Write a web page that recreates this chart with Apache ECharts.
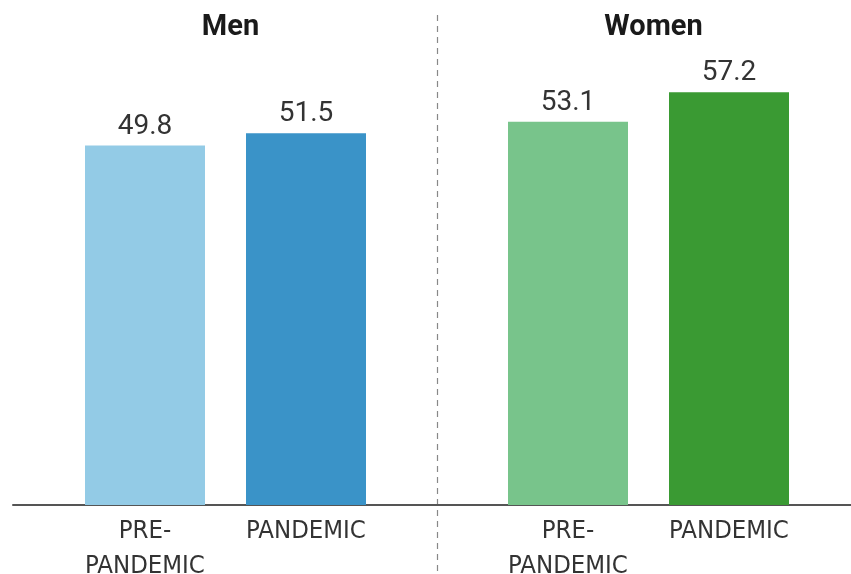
<!DOCTYPE html>
<html>
<head>
<meta charset="utf-8">
<script src="https://cdn.jsdelivr.net/npm/echarts@6/dist/echarts.min.js"></script>
<style>
  html, body { margin: 0; padding: 0; background: #ffffff; }
  #chart { width: 851px; height: 574px; }
</style>
</head>
<body>
<div id="chart"></div>
<script>
// Panel titles
const panels = ['Men', 'Women'];
// Period categories shared by both panels
const periods = ['PRE-\nPANDEMIC', 'PANDEMIC'];
// Values per panel, in period order
const menValues = [49.8, 51.5];
const womenValues = [53.1, 57.2];

const menColors = ['#93cbe6', '#3a93c8'];
const womenColors = ['#78c48b', '#3a9a33'];

// Pick the narrowest installed sans face for the category labels
function pickFont(candidates) {
  const ctx = document.createElement('canvas').getContext('2d');
  const probe = 'PANDEMIC 0123456789';
  ctx.font = '40px monospace';
  const base = ctx.measureText(probe).width;
  for (const f of candidates) {
    ctx.font = '40px "' + f + '", monospace';
    if (Math.abs(ctx.measureText(probe).width - base) > 0.5) return f;
  }
  return 'Roboto';
}
const narrowFont = pickFont(['Liberation Sans Narrow', 'DejaVu Sans Condensed', 'Roboto Condensed', 'Roboto']);

// size so that "PANDEMIC" spans about one bar width
function fitSize(font, text, target) {
  const ctx = document.createElement('canvas').getContext('2d');
  ctx.font = '100px "' + font + '"';
  return Math.round(100 * target / ctx.measureText(text).width * 2) / 2;
}
const catSize = Math.min(28, fitSize(narrowFont, 'PANDEMIC', 120));

const chart = echarts.init(document.getElementById('chart'), null, { renderer: 'canvas' });

const valueLabel = {
  show: true,
  position: 'top',
  distance: 5,
  color: '#333333',
  fontFamily: 'Roboto',
  fontSize: 28,
  formatter: p => p.value.toFixed(1)
};

const catAxis = idx => ({
  type: 'category',
  gridIndex: idx,
  data: periods,
  axisLine: { show: false },
  axisTick: { show: false },
  axisLabel: {
    color: '#333333',
    fontFamily: '"' + narrowFont + '"',
    fontSize: catSize,
    lineHeight: 35,
    margin: 9,
    interval: 0
  }
});

const valAxis = idx => ({
  type: 'value',
  gridIndex: idx,
  min: 0,
  max: 60,
  show: false,
  splitLine: { show: false }
});

const barSeries = (idx, values, colors) => ({
  type: 'bar',
  xAxisIndex: idx,
  yAxisIndex: idx,
  barWidth: 120,
  data: values.map((v, i) => ({ value: v, itemStyle: { color: colors[i] } })),
  label: valueLabel,
  silent: true
});

const titleStyle = { fontFamily: 'Roboto', fontWeight: 'bold', fontSize: 29, color: '#1a1a1a' };

chart.setOption({
  animation: false,
  backgroundColor: '#ffffff',
  title: [
    { text: panels[0], left: 225.5, top: 8, textAlign: 'center', textStyle: titleStyle },
    { text: panels[1], left: 648.5, top: 8, textAlign: 'center', textStyle: titleStyle }
  ],
  grid: [
    { left: 64.5, width: 322, top: 72, bottom: 69, outerBoundsMode: 'none' },
    { left: 487.5, width: 322, top: 72, bottom: 69, outerBoundsMode: 'none' },
    // full-width baseline
    { left: 13, right: 0, top: 72, bottom: 69, outerBoundsMode: 'none' }
  ],
  xAxis: [
    catAxis(0),
    catAxis(1),
    {
      type: 'value', gridIndex: 2, min: 0, max: 1,
      axisLine: { show: true, lineStyle: { color: '#555555', width: 2 } },
      axisTick: { show: false }, axisLabel: { show: false }, splitLine: { show: false }
    }
  ],
  yAxis: [valAxis(0), valAxis(1), valAxis(2)],
  series: [
    barSeries(0, menValues, menColors),
    barSeries(1, womenValues, womenColors)
  ],
  graphic: [
    {
      type: 'line',
      silent: true,
      shape: { x1: 437.5, y1: 15, x2: 437.5, y2: 574 },
      style: { stroke: '#888888', lineWidth: 1.2, lineDash: [6, 5] }
    }
  ]
});
</script>
</body>
</html>
